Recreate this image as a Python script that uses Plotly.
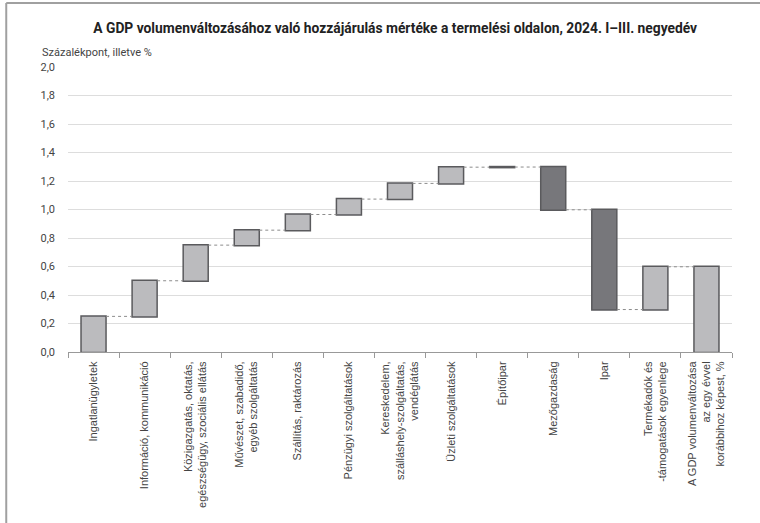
import plotly.graph_objects as go

categories = [
    "Ingatlanügyletek",
    "Információ, kommunikáció",
    "Közigazgatás, oktatás,<br>egészségügy, szociális ellátás",
    "Művészet, szabadidő,<br>egyéb szolgáltatás",
    "Szállítás, raktározás",
    "Pénzügyi szolgáltatások",
    "Kereskedelem,<br>szálláshely-szolgáltatás,<br>vendéglátás",
    "Üzleti szolgáltatások",
    "Építőipar",
    "Mezőgazdaság",
    "Ipar",
    "Termékadók és<br>-támogatások egyenlege",
    "A GDP volumenváltozása<br>az egy évvel<br>korábbihoz képest, %",
]
values = [0.25, 0.25, 0.25, 0.105, 0.11, 0.108, 0.11, 0.114, 0.001, -0.30, -0.70, 0.30, 0.0]
measures = ["relative"] * 12 + ["total"]

light = "#bbbbbe"
dark = "#77777b"
edge = "#5a5a5d"

fig = go.Figure(go.Waterfall(
    x=categories,
    y=values,
    measure=measures,
    width=0.49,
    increasing=dict(marker=dict(color=light, line=dict(color=edge, width=1.5))),
    decreasing=dict(marker=dict(color=dark, line=dict(color=edge, width=1.5))),
    totals=dict(marker=dict(color=light, line=dict(color=edge, width=1.5))),
    connector=dict(mode="between", line=dict(color="#8c8c8c", width=1, dash="dot")),
    hoverinfo="skip",
))

fig.update_layout(
    width=760, height=523,
    margin=dict(l=68, r=28, t=67, b=171),
    paper_bgcolor="white", plot_bgcolor="white",
    separators=",.",
    showlegend=False,
    font=dict(family="Roboto", color="#444444"),
    title=dict(
        text="<b>A GDP volumenváltozásához való hozzájárulás mértéke a termelési oldalon, 2024. I–III. negyedév</b>",
        x=0.52, xanchor="center", y=0.946, yanchor="middle",
        font=dict(family="Roboto", size=13.8, color="#222222"),
    ),
    annotations=[dict(
        text="Százalékpont, illetve %", xref="paper", yref="paper",
        x=-0.042, y=1.05, xanchor="left", yanchor="middle", showarrow=False,
        font=dict(family="Roboto", size=11, color="#444444"),
    )],
    shapes=[
        dict(type="line", xref="paper", yref="paper", x0=-0.093, x1=1.05, y0=1.225, y1=1.225,
             line=dict(color="#a0a0a0", width=2)),
        dict(type="line", xref="paper", yref="paper", x0=-0.093, x1=-0.093, y0=1.225, y1=-0.62,
             line=dict(color="#a0a0a0", width=2)),
    ],
)

fig.update_xaxes(
    type="category",
    tickson="boundaries",
    ticks="outside", ticklen=5, tickcolor="#999999",
    showline=True, linecolor="#999999", linewidth=1,
    tickangle=-90,
    ticklabelstandoff=4,
    tickfont=dict(family="Liberation Sans", size=11, color="#444444"),
    showgrid=False,
)
fig.update_yaxes(
    range=[0, 2.0], dtick=0.2, tickformat=".1f",
    showgrid=True, gridcolor="#dddddd", gridwidth=1,
    zeroline=False, showline=False,
    ticklabelstandoff=12,
    tickfont=dict(family="Roboto", size=11, color="#444444"),
)

fig.write_html("out.html")
